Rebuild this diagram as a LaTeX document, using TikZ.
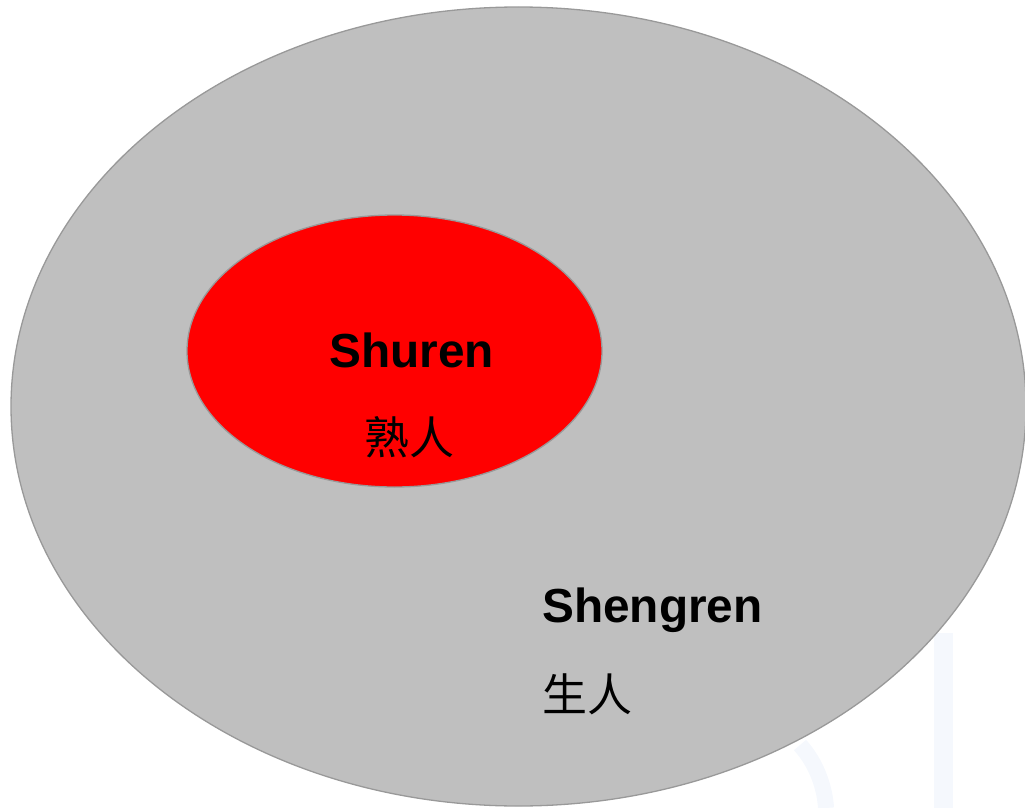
\documentclass[tikz,border=0pt]{standalone}
\usepackage{fontspec}
\setmainfont{Liberation Sans}
\newfontfamily\cjk{Noto Sans CJK SC}
\definecolor{outergray}{HTML}{BFBFBF}
\definecolor{edgegray}{HTML}{999999}
\definecolor{wmblue}{HTML}{F5F8FD}
\begin{document}
\begin{tikzpicture}[x=1pt,y=-1pt,
  latinlabel/.style={font=\fontsize{47.8}{50}\selectfont\bfseries,inner sep=0pt,anchor=base west},
  cjklabel/.style={font=\fontsize{45}{48}\selectfont\cjk,inner sep=0pt,anchor=west}]
\useasboundingbox (0,0) rectangle (1025,808);
% faint background watermark
\fill[wmblue] (934,633) rectangle (953,808);
\draw[wmblue,line width=16pt] (800,745) .. controls (818,765) and (825,790) .. (826,808);
% sets
\fill[outergray,draw=edgegray,line width=1.3pt] (518.5,406.5) ellipse[x radius=507.5,y radius=399.5];
\fill[red,draw=edgegray,line width=1.3pt] (394.5,351) ellipse[x radius=207.5,y radius=136];
% labels
\node[latinlabel] (shuren) at (329,367) {Shuren};
\node[cjklabel] (shurencn) at (364,437) {熟人};
\node[latinlabel] (shengren) at (542,622) {Shengren};
\node[cjklabel] (shengrencn) at (542,694) {生人};
\end{tikzpicture}
\end{document}
